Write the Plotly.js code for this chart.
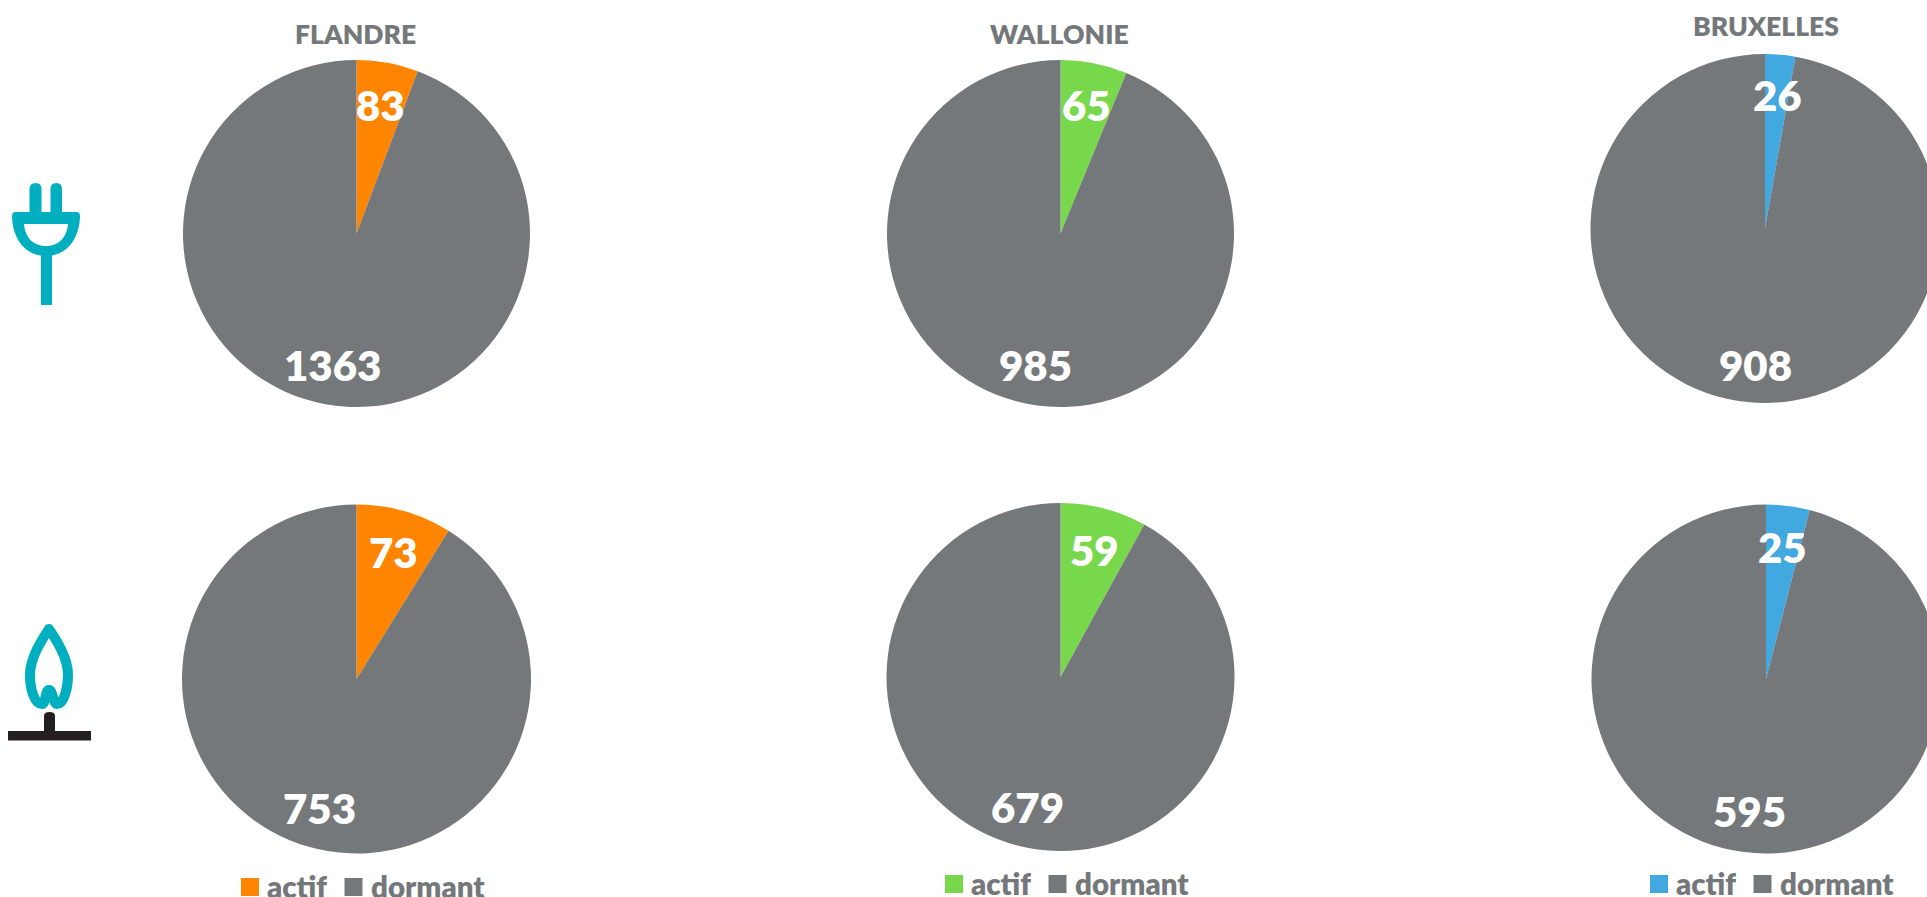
<!DOCTYPE html>
<html><head><meta charset="utf-8">
<script src="https://cdn.plot.ly/plotly-3.0.1.min.js"></script>
<style>html,body{margin:0;padding:0;background:#fff;overflow:hidden;width:1927px;height:897px}#c{width:1960px;height:897px}
.shapelayer path{stroke-linejoin:round}</style>
</head><body><div id="c"></div>
<script>
const regions = ['FLANDRE','WALLONIE','BRUXELLES'];
const statusLabels = ['actif','dormant'];
const activeElectricity = [83,65,26];
const dormantElectricity = [1363,985,908];
const activeGas = [73,59,25];
const dormantGas = [753,679,595];
const activeColors = ['#FF8400','#78D84B','#41A8E0'];
const dormantColor = '#75787B';
const textGray = '#75787B';
const teal = '#00AFBF';
const dark = '#231F20';

const W = 1960, H = 897;
const FONT = 'Lato, Carlito, sans-serif';
const px = x => x / W, py = y => 1 - y / H;

const rows = [
  {a: activeElectricity, d: dormantElectricity,
   geo: [[356.5,233.5,173.5],[1060.5,233.5,173.5],[1765,228.5,174.5]],
   lab: [[380,105],[1086,105],[1777,95]], labD: [[332,365],[1035,365],[1755,365]]},
  {a: activeGas, d: dormantGas,
   geo: [[356.5,679,174.5],[1060.5,677,174],[1766,679,174.5]],
   lab: [[393,552],[1094,550],[1782,547]], labD: [[319,808],[1027,807],[1749,811]]}
];
const titlePos = [[355,33.5],[1059,33.5],[1765.5,26.5]];
const legendPos = [[241,887,886],[945,884,883],[1650,884,883]];

const data = [], ann = [], shapes = [];
const label = (t,x,y,size,color,anchor,weight,height) => ann.push(Object.assign({text:t, x:px(x), y:py(y), xref:'paper', yref:'paper',
  xanchor:anchor||'center', yanchor:'middle', showarrow:false,
  font:{family:FONT,size:size,color:color,weight:weight||800}}, height?{height:height}:{}));

rows.forEach(row => regions.forEach((reg,i) => {
  const [cx,cy,r] = row.geo[i];
  data.push({type:'pie', labels:statusLabels, values:[row.a[i],row.d[i]], sort:false, direction:'clockwise', rotation:0,
    textinfo:'none', hoverinfo:'label+value', showlegend:false,
    marker:{colors:[activeColors[i],dormantColor], line:{width:0}},
    domain:{x:[px(cx-r),px(cx+r)], y:[py(cy+r),py(cy-r)]}});
  label(String(row.a[i]),row.lab[i][0],row.lab[i][1],42,'#fff');
  label(String(row.d[i]),row.labD[i][0],row.labD[i][1],42,'#fff');
}));
regions.forEach((reg,i) => label(reg,titlePos[i][0],titlePos[i][1],26.5,textGray));

const rect = (x0,y0,x1,y1,c) => shapes.push({type:'rect',xref:'paper',yref:'paper',x0:px(x0),x1:px(x1),y0:py(y0),y1:py(y1),fillcolor:c,line:{width:0}});
regions.forEach((reg,i) => {
  const [x,y,ty] = legendPos[i];
  rect(x,y-9,x+18,y+9,activeColors[i]);
  label(statusLabels[0],x+24,ty,29.5,textGray,'left',800,24);
  rect(x+103.5,y-9,x+121.5,y+9,dormantColor);
  label(statusLabels[1],x+127.5,ty,29.5,textGray,'left',800,24);
});

// pixel-path helper for the two icons
const toPaper = s => s.replace(/(-?[\d.]+),(-?[\d.]+)/g,(m,a,b)=>px(+a)+','+py(+b));
const path = (d,fill,lineC,lineW) => shapes.push({type:'path',xref:'paper',yref:'paper',path:toPaper(d),
  fillcolor:fill,line:{color:lineC||fill,width:lineW||0}});
// plug
path('M29.5,214 L29.5,189 Q29.5,183 35.5,183 Q41.5,183 41.5,189 L41.5,214 Z',teal);
path('M50.5,214 L50.5,189 Q50.5,183 56.3,183 Q62,183 62,189 L62,214 Z',teal);
path('M41,250 L52,250 L52,305 L41,305 Z',teal);
path('M16,212 L76,212 Q80.5,212 80,217 C79,240 66,256 46,256 C26,256 13,240 12,217 Q11.5,212 16,212 Z M24,224 C25,236 32,246 46,246 C60,246 67,236 68,224 Z',teal);
// flame
path('M49,629 C41,641 30,658 30,675 C30,688 34,704 42,704 C46,704 45,690 49,690 C53,690 53,704 57,704 C64,704 68,688 68,675 C68,658 57,641 49,629 Z','rgba(0,0,0,0)',teal,10);
// burner
path('M44,731 L44,716 Q44,712 49.5,712 Q55,712 55,716 L55,731 Z',dark);
rect(8,731,91,740.5,dark);

Plotly.newPlot('c',data,{width:W,height:H,margin:{l:0,r:0,t:0,b:0,pad:0},paper_bgcolor:'#fff',plot_bgcolor:'#fff',
  showlegend:false,annotations:ann,shapes:shapes},{displayModeBar:false,staticPlot:true});
</script></body></html>
